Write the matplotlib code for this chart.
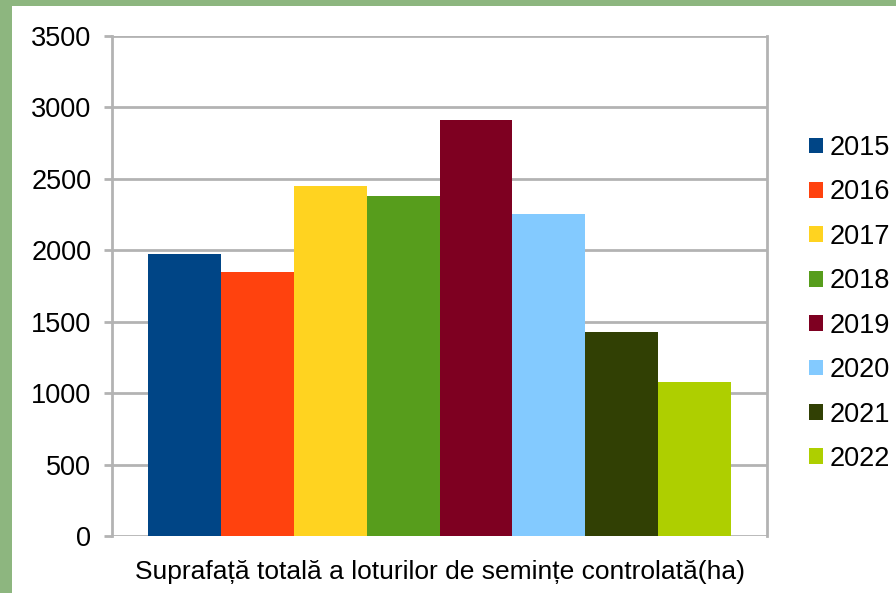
import numpy as np
import matplotlib.pyplot as plt
from matplotlib.patches import Rectangle

# date: suprafata loturilor pe ani
ani = ['2015', '2016', '2017', '2018', '2019', '2020', '2021', '2022']
suprafata = [1975, 1848, 2450, 2380, 2912, 2254, 1428, 1078]
culori = ['#004586', '#ff420e', '#ffd320', '#579d1c',
          '#7e0021', '#83caff', '#314004', '#aecf00']
eticheta_x = 'Suprafață totală a loturilor de semințe controlată(ha)'

plt.rcParams['font.family'] = ['Liberation Sans', 'DejaVu Sans']

fig = plt.figure(figsize=(8.96, 5.93), dpi=100)
fig.patch.set_facecolor('#8db67f')
# panou alb peste fundalul verde
fig.patches.append(Rectangle((12 / 896, 0), 1, (593 - 6) / 593,
                             transform=fig.transFigure, facecolor='white',
                             edgecolor='none', zorder=-10))

ax = fig.add_axes([112 / 896, 57 / 593, 655 / 896, 500 / 593])
ax.set_facecolor('white')

n = len(ani)
latime = 0.889 / n
for i in range(n):
    x = -0.889 / 2 + latime * (i + 0.5)
    ax.bar(x, suprafata[i], width=latime, color=culori[i], label=ani[i], zorder=3)

ax.set_xlim(-0.5, 0.5)
ax.set_ylim(0, 3500)
ax.set_yticks(np.arange(0, 3501, 500))
ax.set_xticks([])
ax.yaxis.grid(True, color='#b3b3b3', linewidth=2, zorder=0)
ax.tick_params(axis='y', length=5.8, width=2, color='#b3b3b3',
               labelsize=19.5, pad=9)
for s in ['left', 'right']:
    ax.spines[s].set_color('#b3b3b3')
    ax.spines[s].set_linewidth(2)
ax.spines['top'].set_visible(False)
ax.spines['bottom'].set_visible(False)
ax.set_xlabel(eticheta_x, fontsize=19, labelpad=17.5)

ax.legend(loc='center left', bbox_to_anchor=(1.064, 0.465), frameon=False,
          fontsize=19.5, handlelength=0.52, handleheight=0.52,
          handletextpad=0.26, labelspacing=0.68,
          borderpad=0, borderaxespad=0)

fig.savefig('out.png', dpi=100, facecolor=fig.get_facecolor())
